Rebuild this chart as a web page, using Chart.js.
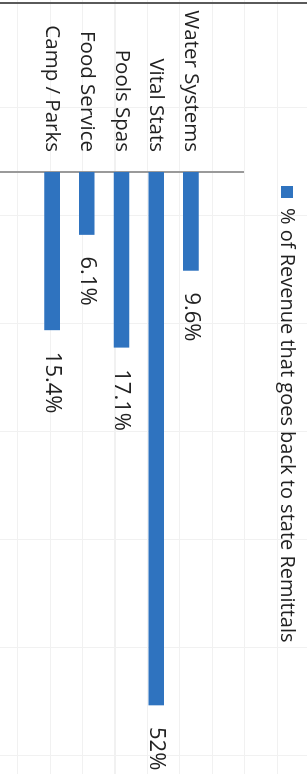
<!DOCTYPE html>
<html>
<head>
<meta charset="utf-8">
<title>% of Revenue that goes back to state Remittals</title>
<script src="https://cdn.jsdelivr.net/npm/chart.js@4/dist/chart.umd.min.js"></script>
<style>
    html, body {
        margin: 0;
        padding: 0;
        width: 307px;
        height: 774px;
        overflow: hidden;
        background-color: #fff;
        /* faint spreadsheet cells showing through the scan */
        background-image:
            repeating-linear-gradient(90deg, transparent 0 17px, #f1f1f1 17px 18px, transparent 18px 32.5px),
            repeating-linear-gradient(180deg, transparent 0 107px, #f1f1f1 107px 108px, transparent 108px 108px);
        background-size: 100% 100%;
        position: relative;
    }
    .top-edge {
        position: absolute;
        left: 0;
        top: 2px;
        width: 307px;
        height: 2px;
        background: #5a5a5a;
    }
    /* chart is drawn landscape and turned a quarter turn clockwise */
    .chart-wrap {
        position: absolute;
        left: 307px;
        top: 0;
        width: 774px;
        height: 307px;
        transform-origin: 0 0;
        transform: rotate(90deg);
    }
</style>
</head>
<body>
<div class="top-edge"></div>
<div class="chart-wrap">
    <canvas id="remitChart" width="774" height="307"></canvas>
</div>
<script>
// Data (blank rows at both ends as in the sheet)
const categories = ['', 'Water Systems', 'Vital Stats', 'Pools Spas', 'Food Service', 'Camp / Parks', ''];
const remitPercent = [null, 9.6, 52, 17.1, 6.1, 15.4, null];
const seriesLabel = '% of Revenue that goes back to state Remittals';

const barColor = '#2f73bf';
const textColor = '#222';
const fontFamily = "'Open Sans', 'Liberation Sans', sans-serif";

// Where the category axis sits and where the legend box starts (canvas px)
const axisX = 172;
const legendStartX = 186;
const legendPadding = 10;

// Fixed legend height so the plot starts at the same place
const legendHeight = {
    id: 'legendHeight',
    beforeInit(chart) {
        const fit = chart.legend.fit;
        chart.legend.fit = function() {
            fit.bind(chart.legend)();
            this.height = 64;
        };
    },
    afterLayout(chart) {
        // move the legend so its box starts where the original one does
        const l = chart.legend;
        const w = l.right - l.left;
        l.left = legendStartX - legendPadding;
        l.right = l.left + w;
    }
};

// Value labels after each bar
const valueLabels = {
    id: 'valueLabels',
    afterDatasetsDraw(chart) {
        const ctx = chart.ctx;
        const meta = chart.getDatasetMeta(0);
        ctx.save();
        ctx.font = '22px ' + fontFamily;
        ctx.fillStyle = textColor;
        ctx.textAlign = 'left';
        ctx.textBaseline = 'middle';
        meta.data.forEach((bar, i) => {
            const v = remitPercent[i];
            if (v === null) return;
            ctx.fillText(v + '%', bar.x + 22, bar.y);
        });
        ctx.restore();
    }
};

const chart = new Chart(document.getElementById('remitChart'), {
    type: 'bar',
    data: {
        labels: categories,
        datasets: [{
            label: seriesLabel,
            data: remitPercent,
            backgroundColor: barColor,
            borderWidth: 0,
            barThickness: 15
        }]
    },
    options: {
        indexAxis: 'y',
        responsive: false,
        animation: false,
        layout: {
            padding: { left: 0, right: 28, top: 0, bottom: 0 }
        },
        plugins: {
            legend: {
                display: true,
                position: 'top',
                align: 'start',
                labels: {
                    boxWidth: 12,
                    boxHeight: 12,
                    padding: legendPadding,
                    color: textColor,
                    font: { family: fontFamily, size: 20 }
                }
            },
            tooltip: { enabled: false }
        },
        scales: {
            x: {
                display: false,
                min: 0,
                max: 56
            },
            y: {
                afterFit: function(scale) {
                    scale.width = axisX;
                    scale.paddingTop = 0;
                    scale.paddingBottom = 0;
                },
                grid: { display: false, drawTicks: false },
                border: { display: true, color: '#9a9a9a', width: 2 },
                ticks: {
                    padding: 20,
                    color: textColor,
                    autoSkip: false,
                    font: { family: fontFamily, size: 20.5 }
                }
            }
        }
    },
    plugins: [legendHeight, valueLabels]
});
</script>
</body>
</html>
